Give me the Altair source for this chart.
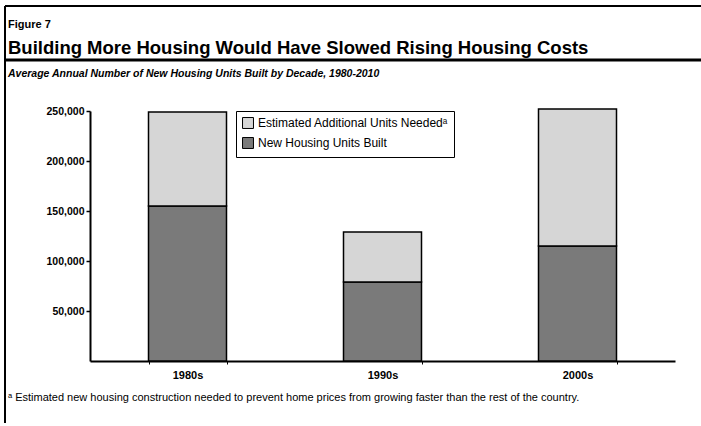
import altair as alt
import pandas as pd

decades = ["1980s", "1990s", "2000s"]
built = [155000, 79000, 115000]
additional = [94000, 50000, 137000]
series_names = ["Estimated Additional Units Neededᵃ", "New Housing Units Built"]
y_ticks = [50000, 100000, 150000, 200000, 250000]

rows = []
for d, b, a in zip(decades, built, additional):
    rows.append({"decade": d, "series": series_names[1], "value": b, "order": 0})
    rows.append({"decade": d, "series": series_names[0], "value": a, "order": 1})
df = pd.DataFrame(rows)

FONT = "Liberation Sans"

bars = alt.Chart(df).mark_bar(stroke="black", strokeWidth=1.5).encode(
    x=alt.X("decade:N", sort=decades,
            scale=alt.Scale(paddingInner=0.6, paddingOuter=0.3),
            axis=alt.Axis(title=None, labelAngle=0, domainColor="black", domainWidth=2,
                          tickColor="black", tickSize=3, tickBand="extent",
                          labelFont=FONT, labelFontSize=11, labelFontWeight="bold",
                          labelColor="black", labelPadding=5)),
    y=alt.Y("value:Q", stack="zero",
            scale=alt.Scale(domain=[0, 250000], nice=False),
            axis=alt.Axis(title=None, values=y_ticks, format=",d", grid=False,
                          domainColor="black", domainWidth=2, tickColor="black",
                          tickSize=4, tickWidth=1.5, labelFont=FONT, labelFontSize=10.5,
                          labelFontWeight="bold", labelColor="black", labelPadding=2)),
    color=alt.Color("series:N",
                    scale=alt.Scale(domain=series_names, range=["#d6d6d6", "#7a7a7a"]),
                    legend=alt.Legend(title=None, orient="none", legendX=146, legendY=0,
                                      strokeColor="black", fillColor="white", padding=6,
                                      symbolType="square", symbolSize=120,
                                      symbolStrokeColor="black", symbolStrokeWidth=1,
                                      labelFont=FONT, labelFontSize=12, labelColor="black",
                                      rowPadding=4, labelLimit=400)),
    order=alt.Order("order:Q"),
)

def txt(s, x, y, size, weight="normal", style="normal"):
    return alt.Chart(pd.DataFrame({"t": [s]})).mark_text(
        align="left", baseline="middle", font=FONT, fontSize=size,
        fontWeight=weight, fontStyle=style, color="black"
    ).encode(x=alt.value(x), y=alt.value(y), text="t:N")

def rule(x, x2, y, y2, w):
    return alt.Chart(pd.DataFrame({"a": [0]})).mark_rule(color="black", strokeWidth=w).encode(
        x=alt.value(x), x2=alt.value(x2), y=alt.value(y), y2=alt.value(y2))

fig = txt("Figure 7", -82, -86, 11, "bold")
title = txt("Building More Housing Would Have Slowed Rising Housing Costs", -82, -63, 18.5, "bold")
subtitle = txt("Average Annual Number of New Housing Units Built by Decade, 1980-2010", -82, -37, 10.5, "bold", "italic")
footnote = txt("ᵃ Estimated new housing construction needed to prevent home prices from growing faster than the rest of the country.", -82, 287, 11)

top_line = rule(-85, 611, -105, -105, 2)
mid_line = rule(-85, 611, -51, -51, 3)
left_line = rule(-85, -85, -105, 312, 2)

chart = alt.layer(bars, fig, title, subtitle, footnote, top_line, mid_line, left_line).properties(
    width=585, height=250,
    autosize=alt.AutoSizeParams(type="none"),
    padding={"left": 90, "top": 111, "right": 26, "bottom": 65},
    background="white",
).configure_view(stroke=None)

chart.save("out.html", embed_options={"renderer": "svg", "actions": False})
